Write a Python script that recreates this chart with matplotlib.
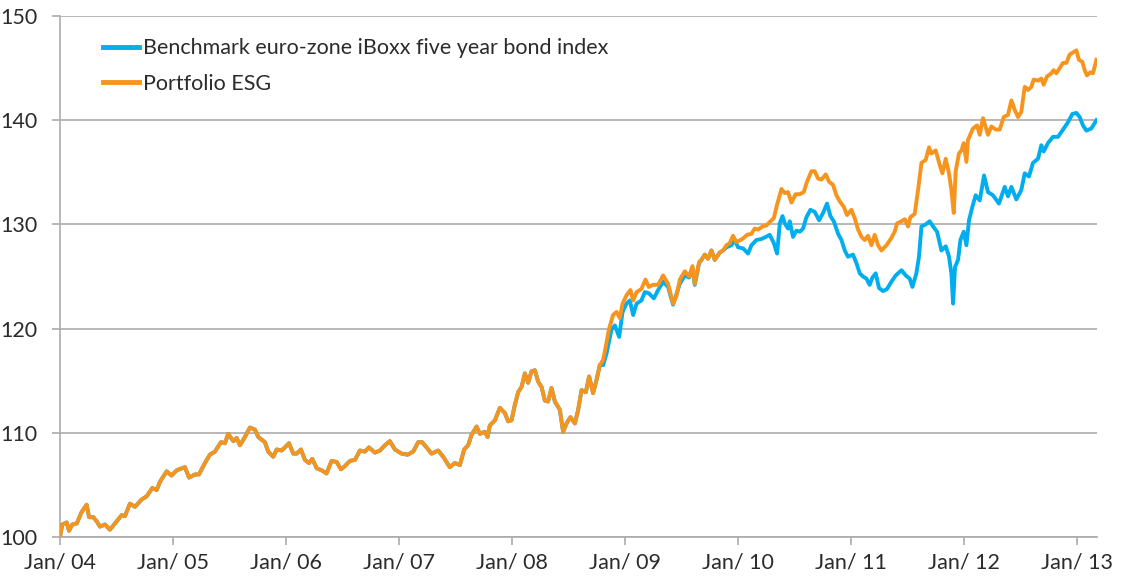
import numpy as np
import matplotlib
matplotlib.use("Agg")
import matplotlib.pyplot as plt

# ---- data (decimal years, index values) ----
# period where both series practically coincide
shared_dates = [2004.000, 2004.020, 2004.059, 2004.080, 2004.109, 2004.148, 2004.192, 2004.236,
                2004.257, 2004.295, 2004.325, 2004.354, 2004.398, 2004.442, 2004.487, 2004.546,
                2004.575, 2004.619, 2004.664, 2004.723, 2004.767, 2004.817, 2004.856, 2004.885,
                2004.944, 2004.988, 2005.033, 2005.106, 2005.142, 2005.195, 2005.230, 2005.283,
                2005.327, 2005.372, 2005.425, 2005.460, 2005.489, 2005.534, 2005.564, 2005.593,
                2005.637, 2005.681, 2005.726, 2005.755, 2005.814, 2005.843, 2005.888, 2005.918,
                2005.962, 2005.991, 2006.027, 2006.065, 2006.095, 2006.133, 2006.168, 2006.204,
                2006.233, 2006.272, 2006.316, 2006.360, 2006.404, 2006.449, 2006.487, 2006.522,
                2006.566, 2006.611, 2006.655, 2006.699, 2006.735, 2006.788, 2006.832, 2006.876,
                2006.920, 2006.965, 2007.024, 2007.077, 2007.127, 2007.171, 2007.206, 2007.245,
                2007.289, 2007.348, 2007.392, 2007.451, 2007.496, 2007.540, 2007.578, 2007.613,
                2007.643, 2007.688, 2007.717, 2007.761, 2007.785, 2007.805, 2007.850, 2007.894,
                2007.938, 2007.967, 2007.997, 2008.027, 2008.056, 2008.086, 2008.115, 2008.144,
                2008.174, 2008.204, 2008.233, 2008.263, 2008.292, 2008.321, 2008.351, 2008.381,
                2008.425, 2008.454, 2008.484, 2008.519, 2008.558, 2008.587, 2008.617, 2008.655,
                2008.684, 2008.719, 2008.750, 2008.779]
shared_values = [100.0, 101.2, 101.4, 100.6, 101.2, 101.3, 102.4, 103.1,
                 101.9, 101.9, 101.5, 101.0, 101.2, 100.7, 101.3, 102.1,
                 102.0, 103.2, 102.9, 103.6, 103.9, 104.7, 104.5, 105.3,
                 106.3, 105.9, 106.4, 106.7, 105.7, 106.0, 106.0, 107.1,
                 107.9, 108.2, 109.1, 109.0, 109.9, 109.2, 109.5, 108.8,
                 109.6, 110.5, 110.3, 109.6, 109.1, 108.2, 107.7, 108.4,
                 108.3, 108.6, 109.0, 108.0, 108.0, 108.4, 107.4, 107.1,
                 107.5, 106.6, 106.4, 106.1, 107.3, 107.2, 106.5, 106.8,
                 107.3, 107.4, 108.3, 108.2, 108.6, 108.1, 108.3, 108.8,
                 109.2, 108.4, 108.0, 107.9, 108.2, 109.1, 109.1, 108.6,
                 108.0, 108.3, 107.7, 106.7, 107.1, 106.9, 108.4, 108.8,
                 109.8, 110.6, 109.9, 110.1, 109.6, 110.7, 111.2, 112.4,
                 111.9, 111.1, 111.2, 112.7, 113.9, 114.4, 115.7, 114.8,
                 115.9, 116.0, 114.9, 114.4, 113.1, 113.0, 114.3, 113.0,
                 112.2, 110.1, 110.9, 111.5, 110.9, 112.2, 114.1, 113.9,
                 115.4, 113.8, 115.1, 116.5]

# Portfolio ESG after the lines separate
esg_dates_late = [2008.808, 2008.832, 2008.861, 2008.896, 2008.927, 2008.956, 2008.980, 2009.015,
                  2009.050, 2009.074, 2009.104, 2009.147, 2009.183, 2009.212, 2009.250, 2009.295,
                  2009.339, 2009.383, 2009.427, 2009.457, 2009.487, 2009.531, 2009.569, 2009.599,
                  2009.619, 2009.658, 2009.679, 2009.708, 2009.737, 2009.767, 2009.796, 2009.841,
                  2009.870, 2009.900, 2009.929, 2009.958, 2009.988, 2010.024, 2010.053, 2010.082,
                  2010.121, 2010.150, 2010.180, 2010.219, 2010.254, 2010.289, 2010.319, 2010.348,
                  2010.387, 2010.416, 2010.445, 2010.475, 2010.513, 2010.549, 2010.584, 2010.613,
                  2010.652, 2010.681, 2010.711, 2010.740, 2010.779, 2010.808, 2010.843, 2010.873,
                  2010.903, 2010.938, 2010.967, 2011.006, 2011.035, 2011.065, 2011.095, 2011.124,
                  2011.153, 2011.183, 2011.212, 2011.242, 2011.272, 2011.316, 2011.360, 2011.389,
                  2011.410, 2011.449, 2011.478, 2011.507, 2011.528, 2011.566, 2011.596, 2011.626,
                  2011.664, 2011.693, 2011.714, 2011.752, 2011.788, 2011.811, 2011.841, 2011.870,
                  2011.891, 2011.912, 2011.929, 2011.958, 2011.980, 2012.000, 2012.024, 2012.038,
                  2012.082, 2012.118, 2012.142, 2012.171, 2012.215, 2012.245, 2012.283, 2012.319,
                  2012.354, 2012.392, 2012.422, 2012.451, 2012.481, 2012.510, 2012.540, 2012.569,
                  2012.599, 2012.619, 2012.658, 2012.687, 2012.708, 2012.737, 2012.776, 2012.796,
                  2012.820, 2012.856, 2012.879, 2012.909, 2012.938, 2012.967, 2012.997, 2013.020,
                  2013.050, 2013.071, 2013.091, 2013.121, 2013.144, 2013.175]
esg_values_late = [117.0, 118.3, 120.0, 121.3, 121.6, 121.0, 122.4, 123.2,
                   123.7, 122.7, 123.5, 123.8, 124.7, 124.0, 124.2, 124.2,
                   125.1, 124.3, 122.4, 123.1, 124.7, 125.5, 125.0, 126.0,
                   124.3, 126.4, 126.6, 127.1, 126.7, 127.5, 126.6, 127.3,
                   127.5, 128.0, 128.2, 128.9, 128.3, 128.5, 128.7, 129.0,
                   129.1, 129.6, 129.5, 129.8, 129.9, 130.3, 130.6, 131.9,
                   133.4, 133.0, 133.1, 132.1, 132.9, 132.9, 133.1, 134.1,
                   135.1, 135.1, 134.4, 134.3, 134.8, 134.1, 133.8, 132.8,
                   132.2, 131.7, 130.9, 131.4, 130.6, 129.5, 128.8, 128.5,
                   128.9, 128.0, 129.0, 128.0, 127.5, 128.0, 128.7, 129.3,
                   130.1, 130.3, 130.5, 129.8, 130.7, 131.0, 133.3, 135.9,
                   136.2, 137.4, 136.8, 137.1, 135.7, 134.9, 136.3, 134.9,
                   133.3, 131.1, 135.1, 136.8, 137.1, 137.8, 136.0, 138.1,
                   139.2, 139.5, 138.6, 140.2, 138.6, 139.4, 139.1, 139.1,
                   140.3, 140.5, 141.9, 141.0, 140.3, 140.8, 143.2, 142.9,
                   143.2, 143.9, 143.8, 144.0, 143.4, 144.2, 144.5, 144.8,
                   144.5, 145.1, 145.5, 145.5, 146.3, 146.5, 146.7, 145.8,
                   145.6, 144.8, 144.3, 144.6, 144.5, 145.8]

# Benchmark after the lines separate
bench_dates_late = [2008.808, 2008.838, 2008.882, 2008.912, 2008.950, 2008.980, 2009.015, 2009.044,
                    2009.074, 2009.104, 2009.147, 2009.177, 2009.212, 2009.257, 2009.295, 2009.339,
                    2009.383, 2009.427, 2009.487, 2009.531, 2009.569, 2009.599, 2009.619, 2009.658,
                    2009.679, 2009.708, 2009.737, 2009.767, 2009.796, 2009.841, 2009.870, 2009.900,
                    2009.944, 2009.973, 2010.003, 2010.047, 2010.091, 2010.121, 2010.165, 2010.209,
                    2010.248, 2010.283, 2010.319, 2010.348, 2010.372, 2010.396, 2010.416, 2010.445,
                    2010.460, 2010.489, 2010.519, 2010.549, 2010.578, 2010.608, 2010.643, 2010.681,
                    2010.720, 2010.755, 2010.790, 2010.820, 2010.850, 2010.888, 2010.918, 2010.947,
                    2010.976, 2011.020, 2011.050, 2011.080, 2011.109, 2011.139, 2011.168, 2011.192,
                    2011.221, 2011.250, 2011.286, 2011.321, 2011.360, 2011.398, 2011.449, 2011.487,
                    2011.522, 2011.546, 2011.581, 2011.604, 2011.626, 2011.664, 2011.699, 2011.729,
                    2011.764, 2011.803, 2011.841, 2011.870, 2011.891, 2011.906, 2011.923, 2011.950,
                    2011.971, 2012.000, 2012.024, 2012.047, 2012.077, 2012.106, 2012.142, 2012.180,
                    2012.215, 2012.259, 2012.312, 2012.363, 2012.392, 2012.422, 2012.466, 2012.510,
                    2012.540, 2012.578, 2012.613, 2012.658, 2012.687, 2012.708, 2012.746, 2012.790,
                    2012.835, 2012.879, 2012.923, 2012.962, 2012.997, 2013.027, 2013.056, 2013.086,
                    2013.130, 2013.175]
bench_values_late = [116.5, 117.6, 119.9, 120.3, 119.2, 121.6, 122.4, 122.7,
                     121.3, 122.4, 122.7, 123.5, 123.4, 122.9, 123.7, 124.5,
                     124.0, 122.3, 124.3, 125.1, 124.9, 125.8, 124.2, 126.3,
                     126.6, 127.1, 126.7, 127.5, 126.6, 127.3, 127.5, 127.8,
                     128.0, 128.5, 127.8, 127.7, 127.2, 128.0, 128.5, 128.6,
                     128.8, 129.0, 128.2, 127.2, 130.1, 130.8, 130.1, 129.6,
                     130.3, 128.8, 129.4, 129.3, 129.6, 130.7, 131.4, 131.2,
                     130.4, 131.1, 132.0, 130.8, 130.3, 129.1, 128.5, 127.5,
                     126.9, 127.1, 126.3, 125.3, 125.0, 124.8, 124.2, 124.9,
                     125.3, 123.9, 123.6, 123.8, 124.5, 125.1, 125.6, 125.1,
                     124.8, 124.0, 125.3, 126.9, 129.8, 130.0, 130.3, 129.8,
                     129.3, 127.5, 127.9, 126.9, 125.3, 122.4, 125.9, 126.6,
                     128.5, 129.3, 128.0, 130.4, 131.7, 132.8, 132.3, 134.7,
                     133.1, 132.8, 132.0, 133.6, 132.7, 133.6, 132.4, 133.3,
                     134.9, 134.6, 135.9, 136.3, 137.6, 137.0, 137.8, 138.4,
                     138.4, 139.1, 139.8, 140.6, 140.7, 140.3, 139.5, 139.0,
                     139.2, 140.0]

tick_years = [2004, 2005, 2006, 2007, 2008, 2009, 2010, 2011, 2012, 2013]
tick_labels = ["Jan/ 04", "Jan/ 05", "Jan/ 06", "Jan/ 07", "Jan/ 08",
               "Jan/ 09", "Jan/ 10", "Jan/ 11", "Jan/ 12", "Jan/ 13"]
y_ticks = [100, 110, 120, 130, 140, 150]

series_names = ["Benchmark euro-zone iBoxx five year bond index", "Portfolio ESG"]
colors = ["#00AEEF", "#F7941D"]

# ---- build series ----
bench_x = shared_dates + bench_dates_late
bench_y = shared_values + bench_values_late
esg_x = shared_dates + esg_dates_late
esg_y = shared_values + esg_values_late

plt.rcParams['font.family'] = ['Lato', 'DejaVu Sans']
text_color = "#2b2b2b"
grid_color = "#ababab"

fig = plt.figure(figsize=(11.28, 5.76), dpi=100)
ax = fig.add_axes([60/1128, 1 - 537/576, (1097 - 60)/1128, (537 - 16)/576])

ax.plot(bench_x, bench_y, color=colors[0], lw=2.8, label=series_names[0],
        solid_joinstyle='round', zorder=3)
ax.plot(esg_x, esg_y, color=colors[1], lw=2.8, label=series_names[1],
        solid_joinstyle='round', zorder=4)

ax.set_xlim(2004.0, 2013.18)
ax.set_ylim(100, 150)
ax.set_yticks(y_ticks)
ax.set_xticks(tick_years)
ax.set_xticklabels(tick_labels)

ax.yaxis.grid(True, color=grid_color, lw=1.2)
ax.set_axisbelow(True)
for s in ["top", "right"]:
    ax.spines[s].set_visible(False)
for s in ["left", "bottom"]:
    ax.spines[s].set_color(grid_color)
    ax.spines[s].set_linewidth(1.2)

ax.tick_params(axis='x', direction='out', length=6, width=1.2, color=grid_color,
               labelsize=15.5, labelcolor=text_color, pad=5)
ax.tick_params(axis='y', direction='out', length=6, width=1.2, color=grid_color,
               labelsize=15.5, labelcolor=text_color, pad=10)

leg = ax.legend(loc='upper left', bbox_to_anchor=(0.0415, 0.957), frameon=False,
                fontsize=15.5, handlelength=1.65, handletextpad=0.2, labelspacing=0.72,
                borderaxespad=0, borderpad=0)
for t in leg.get_texts():
    t.set_color(text_color)
for h in leg.get_lines():
    h.set_linewidth(3.5)

fig.savefig("out.png", dpi=100)
